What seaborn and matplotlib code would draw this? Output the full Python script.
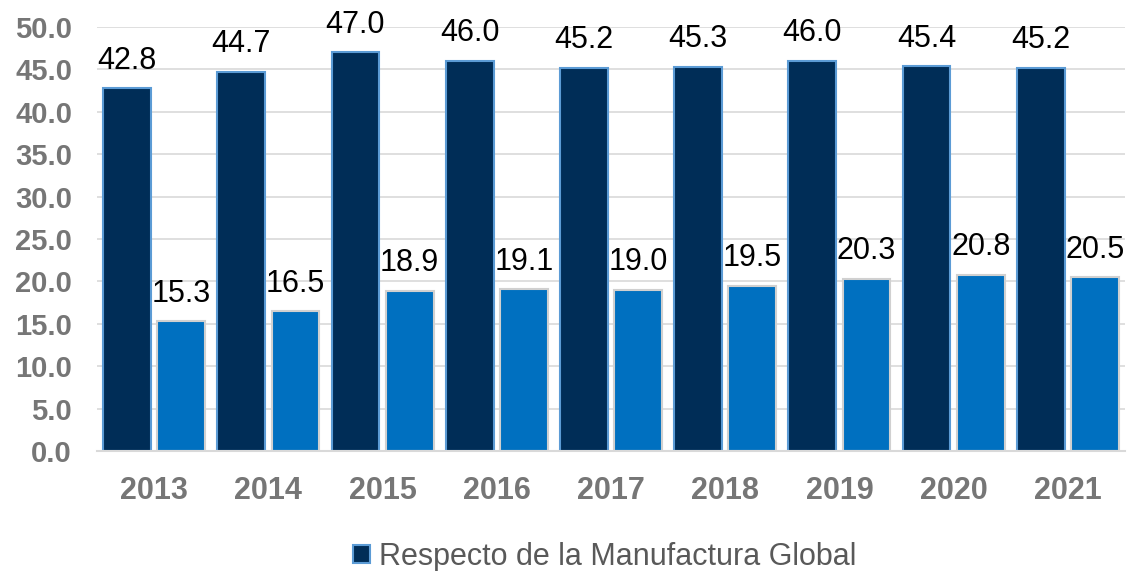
import matplotlib
matplotlib.use("Agg")
import matplotlib.pyplot as plt
import seaborn as sns
import pandas as pd
from matplotlib.patches import Patch

years = ["2013", "2014", "2015", "2016", "2017", "2018", "2019", "2020", "2021"]
manufactura_global = [42.8, 44.7, 47.0, 46.0, 45.2, 45.3, 46.0, 45.4, 45.2]
segunda_serie = [15.3, 16.5, 18.9, 19.1, 19.0, 19.5, 20.3, 20.8, 20.5]
series_names = ["Respecto de la Manufactura Global", "Respecto del PIB"]
y_ticks = [0, 5, 10, 15, 20, 25, 30, 35, 40, 45, 50]

df = pd.DataFrame({
    "year": years * 2,
    "value": manufactura_global + segunda_serie,
    "serie": [series_names[0]] * len(years) + [series_names[1]] * len(years),
})

sns.set_theme(style="white")
plt.rcParams["font.family"] = ["Liberation Sans", "DejaVu Sans"]

fig = plt.figure(figsize=(11.31, 5.71), dpi=100)
ax = fig.add_axes([0.0858, 0.210, 0.9089, 0.7427])

colors = ["#002D57", "#0070C0"]
sns.barplot(data=df, x="year", y="value", hue="serie", palette=colors,
            width=0.95, gap=0.12, ax=ax, legend=False, saturation=1)

edgecolors = ["#5B9BD5", "#D0D0D0"]
for i, cont in enumerate(ax.containers):
    for p in cont:
        p.set_edgecolor(edgecolors[i])
        p.set_linewidth(1.5)
    ax.bar_label(cont, labels=[f"{v:.1f}" for v in cont.datavalues],
                 padding=9, fontsize=22, color="black", clip_on=False)

ax.set_ylim(0, 50)
ax.set_xlim(-0.5, 8.5)
ax.set_yticks(y_ticks)
ax.set_yticklabels([f"{t:.1f}" for t in y_ticks])
ax.yaxis.grid(True, color="#D9D9D9", linewidth=1.2)
ax.set_axisbelow(True)
for s in ["left", "right", "top"]:
    ax.spines[s].set_visible(False)
ax.spines["bottom"].set_color("#D9D9D9")
ax.spines["bottom"].set_linewidth(1.5)
ax.tick_params(axis="y", labelsize=21, labelcolor="#767676", length=0, pad=18)
ax.tick_params(axis="x", labelsize=22, labelcolor="#767676", length=0, pad=18)
for lab in ax.get_yticklabels() + ax.get_xticklabels():
    lab.set_fontweight("bold")
ax.set_xlabel("")
ax.set_ylabel("")

handle = Patch(facecolor=colors[0], edgecolor=edgecolors[0], linewidth=1.5)
fig.legend([handle], [series_names[0]], loc="center", bbox_to_anchor=(0.535, 0.025),
           frameon=False, fontsize=22, labelcolor="#595959",
           handlelength=0.55, handleheight=0.55, handletextpad=0.3)

fig.savefig("out.png", dpi=100)
